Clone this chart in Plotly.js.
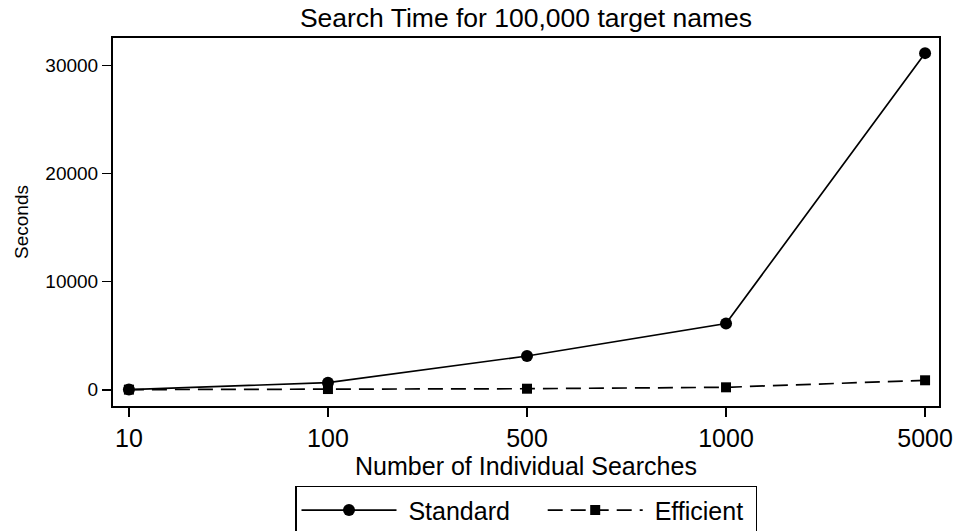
<!DOCTYPE html>
<html>
<head>
<meta charset="utf-8">
<script src="https://cdn.plot.ly/plotly-3.0.1.min.js"></script>
<style>html,body{margin:0;padding:0;background:#fff;}#chart{width:958px;height:531px;}</style>
</head>
<body>
<div id="chart"></div>
<script>
const categories = ['10', '100', '500', '1000', '5000'];
const standardSeconds = [10, 650, 3120, 6120, 31150];
const efficientSeconds = [5, 60, 90, 220, 870];
const seriesNames = ['Standard', 'Efficient'];
const yTickVals = [0, 10000, 20000, 30000];
const yTickText = ['0', '10000', '20000', '30000'];

const FONT = 'Liberation Sans, Arial, sans-serif';
const NB = '\u00a0';

const traces = [
  {
    x: categories, y: standardSeconds, name: NB + seriesNames[0] + NB.repeat(4), type: 'scatter', mode: 'lines+markers',
    line: {color: '#000', width: 1.7},
    marker: {symbol: 'circle', size: 12, color: '#000'}
  },
  {
    x: categories, y: efficientSeconds, name: NB + seriesNames[1] + NB, type: 'scatter', mode: 'lines+markers',
    line: {color: '#000', width: 1.7, dash: '15px,8px'},
    marker: {symbol: 'square', size: 10, color: '#000'}
  }
];

const layout = {
  width: 958, height: 531,
  margin: {l: 113, r: 19, t: 38, b: 125, autoexpand: false},
  paper_bgcolor: '#fff', plot_bgcolor: '#fff',
  font: {family: FONT, color: '#000'},
  title: {text: 'Search Time for 100,000 target names', font: {size: 26.5, family: FONT, color: '#000'},
          x: 0.5, xref: 'paper', xanchor: 'center', y: 0.966, yanchor: 'middle', yref: 'container'},
  xaxis: {
    type: 'category', range: [-0.08, 4.07],
    showline: true, mirror: true, linecolor: '#000', linewidth: 2,
    ticks: 'outside', ticklen: 9, tickwidth: 1.7, tickcolor: '#000',
    tickfont: {size: 25, family: FONT}, showgrid: false, zeroline: false,
    title: {text: 'Number of Individual Searches', font: {size: 25, family: FONT}, standoff: 0}
  },
  yaxis: {
    range: [-1510, 32550], tickvals: yTickVals, ticktext: yTickText,
    showline: true, mirror: true, linecolor: '#000', linewidth: 2,
    ticks: 'outside', ticklen: 9, tickwidth: 1.7, tickcolor: '#000',
    tickfont: {size: 19, family: FONT}, showgrid: false, zeroline: false,
    title: {text: 'Seconds', font: {size: 19, family: FONT}, standoff: 12}
  },
  showlegend: true,
  legend: {
    orientation: 'h', x: 0.5, xanchor: 'center', y: -0.217, yanchor: 'top',
    bordercolor: '#000', borderwidth: 1.5, bgcolor: '#fff',
    font: {size: 25, family: FONT}, itemwidth: 95
  }
};

Plotly.newPlot('chart', traces, layout, {displayModeBar: false, staticPlot: true});
</script>
</body>
</html>
